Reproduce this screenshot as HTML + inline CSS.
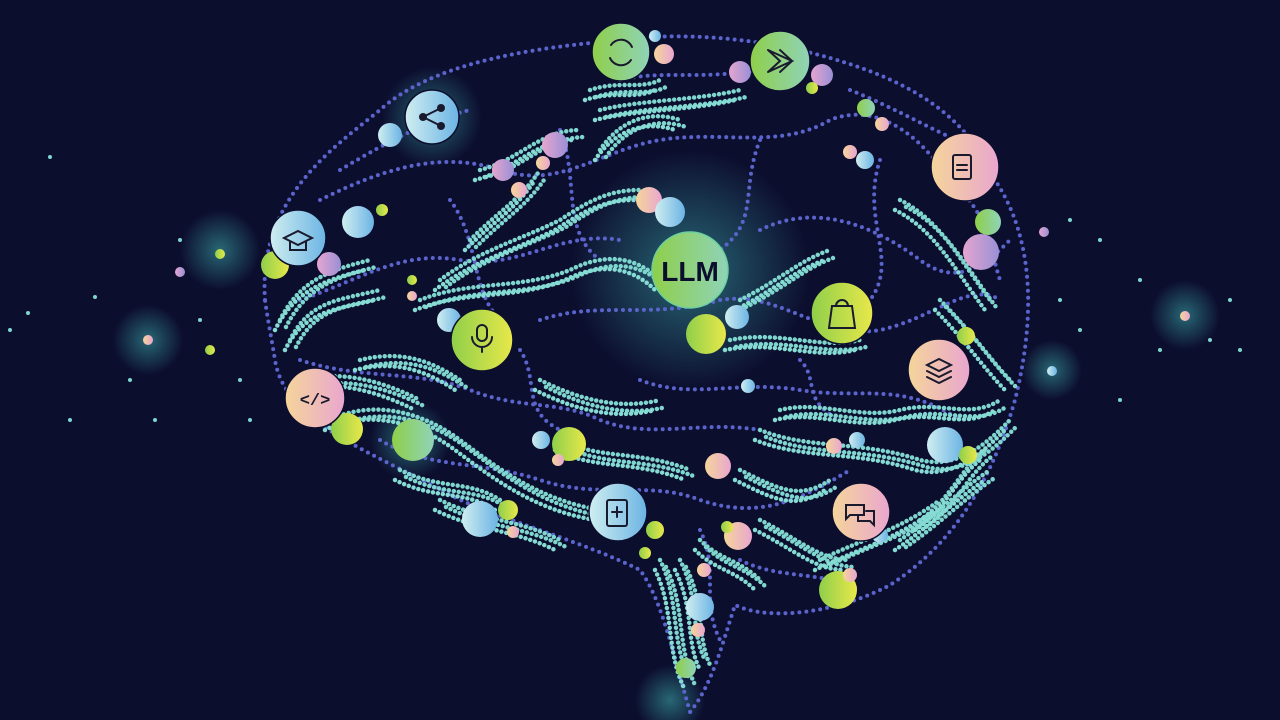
<!DOCTYPE html>
<html><head><meta charset="utf-8"><style>
html,body{margin:0;padding:0;background:#0c0e2e;width:1280px;height:720px;overflow:hidden}
svg{display:block}
</style></head><body>
<svg width="1280" height="720" viewBox="0 0 1280 720" xmlns="http://www.w3.org/2000/svg">
<defs>
<linearGradient id="g" x1="0" x2="1"><stop offset="0" stop-color="#8fcf4a"/><stop offset="1" stop-color="#8fd3b8"/></linearGradient>
<linearGradient id="gy" x1="0" x2="1"><stop offset="0" stop-color="#8fcf4a"/><stop offset="1" stop-color="#e8e84a"/></linearGradient>
<linearGradient id="b" x1="0" x2="1"><stop offset="0" stop-color="#cfeef0"/><stop offset="1" stop-color="#6cb4e4"/></linearGradient>
<linearGradient id="p" x1="0" x2="1"><stop offset="0" stop-color="#f5d59a"/><stop offset="1" stop-color="#e9a6cf"/></linearGradient>
<linearGradient id="v" x1="0" x2="1"><stop offset="0" stop-color="#e5a6cf"/><stop offset="1" stop-color="#9a8fd6"/></linearGradient>
<radialGradient id="glow"><stop offset="0" stop-color="#3fb0b0" stop-opacity=".55"/><stop offset="1" stop-color="#3fb0b0" stop-opacity="0"/></radialGradient>
<g id="teal">
<path d="M280 320 C300 280 330 270 370 260"/>
<path d="M290 340 C310 300 340 300 380 290"/>
<path d="M330 420 C370 400 420 410 460 440 C500 470 540 500 600 510"/>
<path d="M300 380 C340 370 380 380 420 400"/>
<path d="M420 300 C470 280 520 290 570 270 C610 250 640 260 660 280"/>
<path d="M440 280 C480 250 520 240 560 220 C590 200 610 190 640 190"/>
<path d="M470 240 C500 210 520 200 540 170"/>
<path d="M730 340 C780 330 820 350 860 340"/>
<path d="M740 300 C780 280 800 260 830 250"/>
<path d="M760 430 C810 450 860 440 920 460 C960 470 990 440 1010 420"/>
<path d="M780 410 C820 400 860 420 900 410 C940 400 970 420 1000 400"/>
<path d="M600 110 C640 100 700 100 740 90"/>
<path d="M590 90 C620 80 640 90 660 80"/>
<path d="M820 560 C860 540 900 530 940 500"/>
<path d="M900 540 C930 520 960 490 990 470"/>
<path d="M440 500 C480 520 520 520 560 540"/>
<path d="M400 470 C440 490 470 480 500 500"/>
<path d="M660 560 C680 600 670 640 690 680"/>
<path d="M680 560 C700 600 690 630 705 660"/>
<path d="M480 170 C520 160 540 130 580 130"/>
<path d="M900 200 C940 220 960 260 990 300"/>
<path d="M940 300 C970 330 990 360 1010 380"/>
<path d="M540 380 C580 400 620 410 660 400"/>
<path d="M560 440 C600 460 640 450 690 470"/>
<path d="M740 470 C780 490 800 500 830 480"/>
<path d="M600 150 C620 120 650 110 680 120"/>
<path d="M920 520 C950 500 960 470 985 450"/>
<path d="M760 520 C800 540 820 560 850 560"/>
<path d="M700 540 C720 560 740 560 760 580"/>
<path d="M360 360 C400 350 430 360 460 380"/>
</g>
</defs>
<rect width="1280" height="720" fill="#0c0e2e"/>
<g fill="url(#glow)">
<circle cx="690" cy="270" r="120"/><circle cx="432" cy="117" r="50"/><circle cx="220" cy="250" r="40"/><circle cx="148" cy="340" r="35"/><circle cx="1185" cy="315" r="35"/><circle cx="1052" cy="370" r="30"/><circle cx="410" cy="440" r="40"/><circle cx="670" cy="700" r="35"/>
</g>
<g fill="none" stroke-linecap="round">
<g stroke="#5b64cc" stroke-width="4" stroke-dasharray="0 7">
<path d="M265 300 C258 200 330 150 380 110 C430 65 520 50 600 42 C680 30 760 38 830 58 C900 78 965 110 995 180 C1035 240 1035 320 1015 400 C995 470 960 540 890 585 C840 612 770 622 735 605 C722 645 712 685 690 712"/>
<path d="M690 712 C672 650 662 600 640 570 C580 540 500 520 450 495 C380 455 285 425 275 360 C270 330 267 315 265 300"/>
<path d="M320 200 C380 170 440 150 500 170 C560 190 600 150 660 140 C720 130 780 150 830 120 C880 100 930 140 960 200"/>
<path d="M340 170 C390 140 430 120 470 110"/>
<path d="M300 300 C360 280 400 250 460 260 C520 270 560 230 620 240"/>
<path d="M300 360 C360 380 420 370 470 390 C520 410 560 400 600 420 C650 440 700 420 760 430"/>
<path d="M540 320 C600 300 650 320 720 300 C780 290 820 340 880 330 C930 320 970 280 1000 300"/>
<path d="M380 440 C430 470 480 460 540 480 C600 500 650 480 700 500 C760 520 800 500 850 470"/>
<path d="M760 230 C820 200 880 230 920 260 C960 290 990 260 1010 240"/>
<path d="M640 380 C690 400 740 380 800 390 C860 400 900 380 960 420"/>
<path d="M450 200 C480 240 470 290 500 320"/>
<path d="M560 130 C580 180 560 230 600 260"/>
<path d="M760 140 C740 190 760 220 720 250"/>
<path d="M880 160 C860 220 900 260 870 300"/>
<path d="M700 530 C720 570 700 600 720 640"/>
<path d="M620 80 C660 70 700 80 760 70"/>
<path d="M850 90 C900 110 930 130 980 150"/>
<path d="M520 350 C540 380 520 410 560 430"/>
<path d="M800 360 C820 380 800 400 840 420"/>
<path d="M740 560 C780 580 820 570 860 590"/>
<path d="M960 190 C990 220 990 250 1000 280"/>
</g>
<g stroke="#7fd6cf" stroke-width="4.5" stroke-dasharray="0 5">
<use href="#teal"/>
<use href="#teal" transform="translate(6,7)"/>
<use href="#teal" transform="translate(-5,10)" stroke="#86dcd4"/>
</g>
</g>
<g fill="#7fd6cf">
<circle cx="50" cy="157" r="2"/><circle cx="28" cy="313" r="2"/><circle cx="95" cy="297" r="2"/><circle cx="70" cy="420" r="2"/><circle cx="130" cy="380" r="2"/><circle cx="180" cy="240" r="2"/><circle cx="200" cy="320" r="2"/><circle cx="240" cy="380" r="2"/><circle cx="155" cy="420" r="2"/><circle cx="1100" cy="240" r="2"/><circle cx="1140" cy="280" r="2"/><circle cx="1210" cy="340" r="2"/><circle cx="1240" cy="350" r="2"/><circle cx="1080" cy="330" r="2"/><circle cx="1120" cy="400" r="2"/><circle cx="1230" cy="300" r="2"/><circle cx="1070" cy="220" r="2"/><circle cx="10" cy="330" r="2"/><circle cx="250" cy="420" r="2"/><circle cx="1060" cy="300" r="2"/><circle cx="1160" cy="350" r="2"/>
</g>
<g>
<circle cx="148" cy="340" r="5" fill="url(#p)"/><circle cx="1185" cy="316" r="5" fill="url(#p)"/><circle cx="1052" cy="371" r="5" fill="url(#b)"/><circle cx="220" cy="254" r="5" fill="url(#gy)"/><circle cx="180" cy="272" r="5" fill="url(#v)"/><circle cx="210" cy="350" r="5" fill="url(#gy)"/>
<circle cx="390" cy="135" r="12" fill="url(#b)"/><circle cx="358" cy="222" r="16" fill="url(#b)"/><circle cx="329" cy="264" r="12" fill="url(#v)"/><circle cx="275" cy="265" r="14" fill="url(#gy)"/><circle cx="382" cy="210" r="6" fill="url(#gy)"/>
<circle cx="555" cy="145" r="13" fill="url(#v)"/><circle cx="503" cy="170" r="11" fill="url(#v)"/><circle cx="519" cy="190" r="8" fill="url(#p)"/><circle cx="543" cy="163" r="7" fill="url(#p)"/>
<circle cx="649" cy="200" r="13" fill="url(#p)"/><circle cx="670" cy="212" r="15" fill="url(#b)"/><circle cx="664" cy="54" r="10" fill="url(#p)"/><circle cx="655" cy="36" r="6" fill="url(#b)"/>
<circle cx="740" cy="72" r="11" fill="url(#v)"/><circle cx="822" cy="75" r="11" fill="url(#v)"/><circle cx="812" cy="88" r="6" fill="url(#gy)"/><circle cx="866" cy="108" r="9" fill="url(#g)"/><circle cx="882" cy="124" r="7" fill="url(#p)"/><circle cx="865" cy="160" r="9" fill="url(#b)"/><circle cx="850" cy="152" r="7" fill="url(#p)"/>
<circle cx="988" cy="222" r="13" fill="url(#g)"/><circle cx="981" cy="252" r="18" fill="url(#v)"/><circle cx="1044" cy="232" r="5" fill="url(#v)"/>
<circle cx="706" cy="334" r="20" fill="url(#gy)"/><circle cx="737" cy="317" r="12" fill="url(#b)"/>
<circle cx="449" cy="320" r="12" fill="url(#b)"/><circle cx="412" cy="280" r="5" fill="url(#gy)"/><circle cx="412" cy="296" r="5" fill="url(#p)"/>
<circle cx="966" cy="336" r="9" fill="url(#gy)"/><circle cx="945" cy="445" r="18" fill="url(#b)"/><circle cx="968" cy="455" r="9" fill="url(#gy)"/><circle cx="857" cy="440" r="8" fill="url(#b)"/><circle cx="834" cy="446" r="8" fill="url(#p)"/><circle cx="748" cy="386" r="7" fill="url(#b)"/>
<circle cx="347" cy="429" r="16" fill="url(#gy)"/><circle cx="413" cy="440" r="21" fill="url(#g)"/>
<circle cx="541" cy="440" r="9" fill="url(#b)"/><circle cx="569" cy="444" r="17" fill="url(#gy)"/><circle cx="558" cy="460" r="6" fill="url(#p)"/><circle cx="718" cy="466" r="13" fill="url(#p)"/>
<circle cx="480" cy="519" r="18" fill="url(#b)"/><circle cx="508" cy="510" r="10" fill="url(#gy)"/><circle cx="513" cy="532" r="6" fill="url(#p)"/>
<circle cx="655" cy="530" r="9" fill="url(#gy)"/><circle cx="645" cy="553" r="6" fill="url(#gy)"/><circle cx="738" cy="536" r="14" fill="url(#p)"/><circle cx="727" cy="527" r="6" fill="url(#gy)"/>
<circle cx="880" cy="535" r="8" fill="url(#b)"/><circle cx="838" cy="590" r="19" fill="url(#gy)"/><circle cx="850" cy="575" r="7" fill="url(#p)"/>
<circle cx="704" cy="570" r="7" fill="url(#p)"/><circle cx="700" cy="607" r="14" fill="url(#b)"/><circle cx="698" cy="630" r="7" fill="url(#p)"/><circle cx="686" cy="668" r="10" fill="url(#g)"/>
</g>
<g stroke="#0c0e2e" stroke-width="1.5">
<circle cx="690" cy="270" r="38" fill="url(#g)" stroke="#6ad0a0"/>
<circle cx="621" cy="52" r="29" fill="url(#g)"/>
<circle cx="780" cy="61" r="30" fill="url(#g)"/>
<circle cx="432" cy="117" r="27" fill="url(#b)"/>
<circle cx="298" cy="238" r="28" fill="url(#b)"/>
<circle cx="965" cy="167" r="34" fill="url(#p)"/>
<circle cx="482" cy="340" r="31" fill="url(#gy)"/>
<circle cx="842" cy="313" r="31" fill="url(#gy)"/>
<circle cx="939" cy="370" r="31" fill="url(#p)"/>
<circle cx="315" cy="398" r="30" fill="url(#p)"/>
<circle cx="618" cy="512" r="29" fill="url(#b)"/>
<circle cx="861" cy="512" r="29" fill="url(#p)"/>
</g>
<text x="690" y="281" text-anchor="middle" font-family="Liberation Sans, sans-serif" font-weight="bold" font-size="28" fill="#0c0e2e">LLM</text>
<g fill="none" stroke="#1a1a2e" stroke-width="2" stroke-linecap="round">
<path d="M611 45 A12 12 0 0 1 632 47 M631 60 A12 12 0 0 1 610 58"/>
<path d="M768 50 L792 61 L768 72 M768 50 L780 61 L768 72 M780 50 L792 61 L780 72"/>
<path d="M423 117 L441 108 M423 117 L441 126"/>
<path d="M284 238 L298 231 L312 238 L298 245 Z M290 242 V250 H306 V242"/>
<rect x="953" y="155" width="18" height="24" rx="2"/><path d="M957 165 H967 M957 170 H967"/>
<rect x="477" y="325" width="10" height="16" rx="5"/><path d="M472 337 A10 10 0 0 0 492 337 M482 347 V352"/>
<path d="M832 306 H852 L855 328 H829 Z M836 306 A6 6 0 0 1 848 306"/>
<path d="M927 365 L939 359 L951 365 L939 371 Z M927 371 L939 377 L951 371 M927 377 L939 383 L951 377"/>
<rect x="607" y="500" width="20" height="26" rx="2"/><path d="M617 507 V517 M612 512 H622"/>
<path d="M846 505 h18 v10 h-14 l-4 4 Z M858 515 v6 h12 l4 4 v-14 h-8"/>
</g>
<g fill="#1a1a2e"><circle cx="423" cy="117" r="4"/><circle cx="441" cy="108" r="4"/><circle cx="441" cy="126" r="4"/></g>
<text x="315" y="405" text-anchor="middle" font-family="Liberation Mono, monospace" font-weight="bold" font-size="17" fill="#1a1a2e">&lt;/&gt;</text>
</svg>
</body></html>
